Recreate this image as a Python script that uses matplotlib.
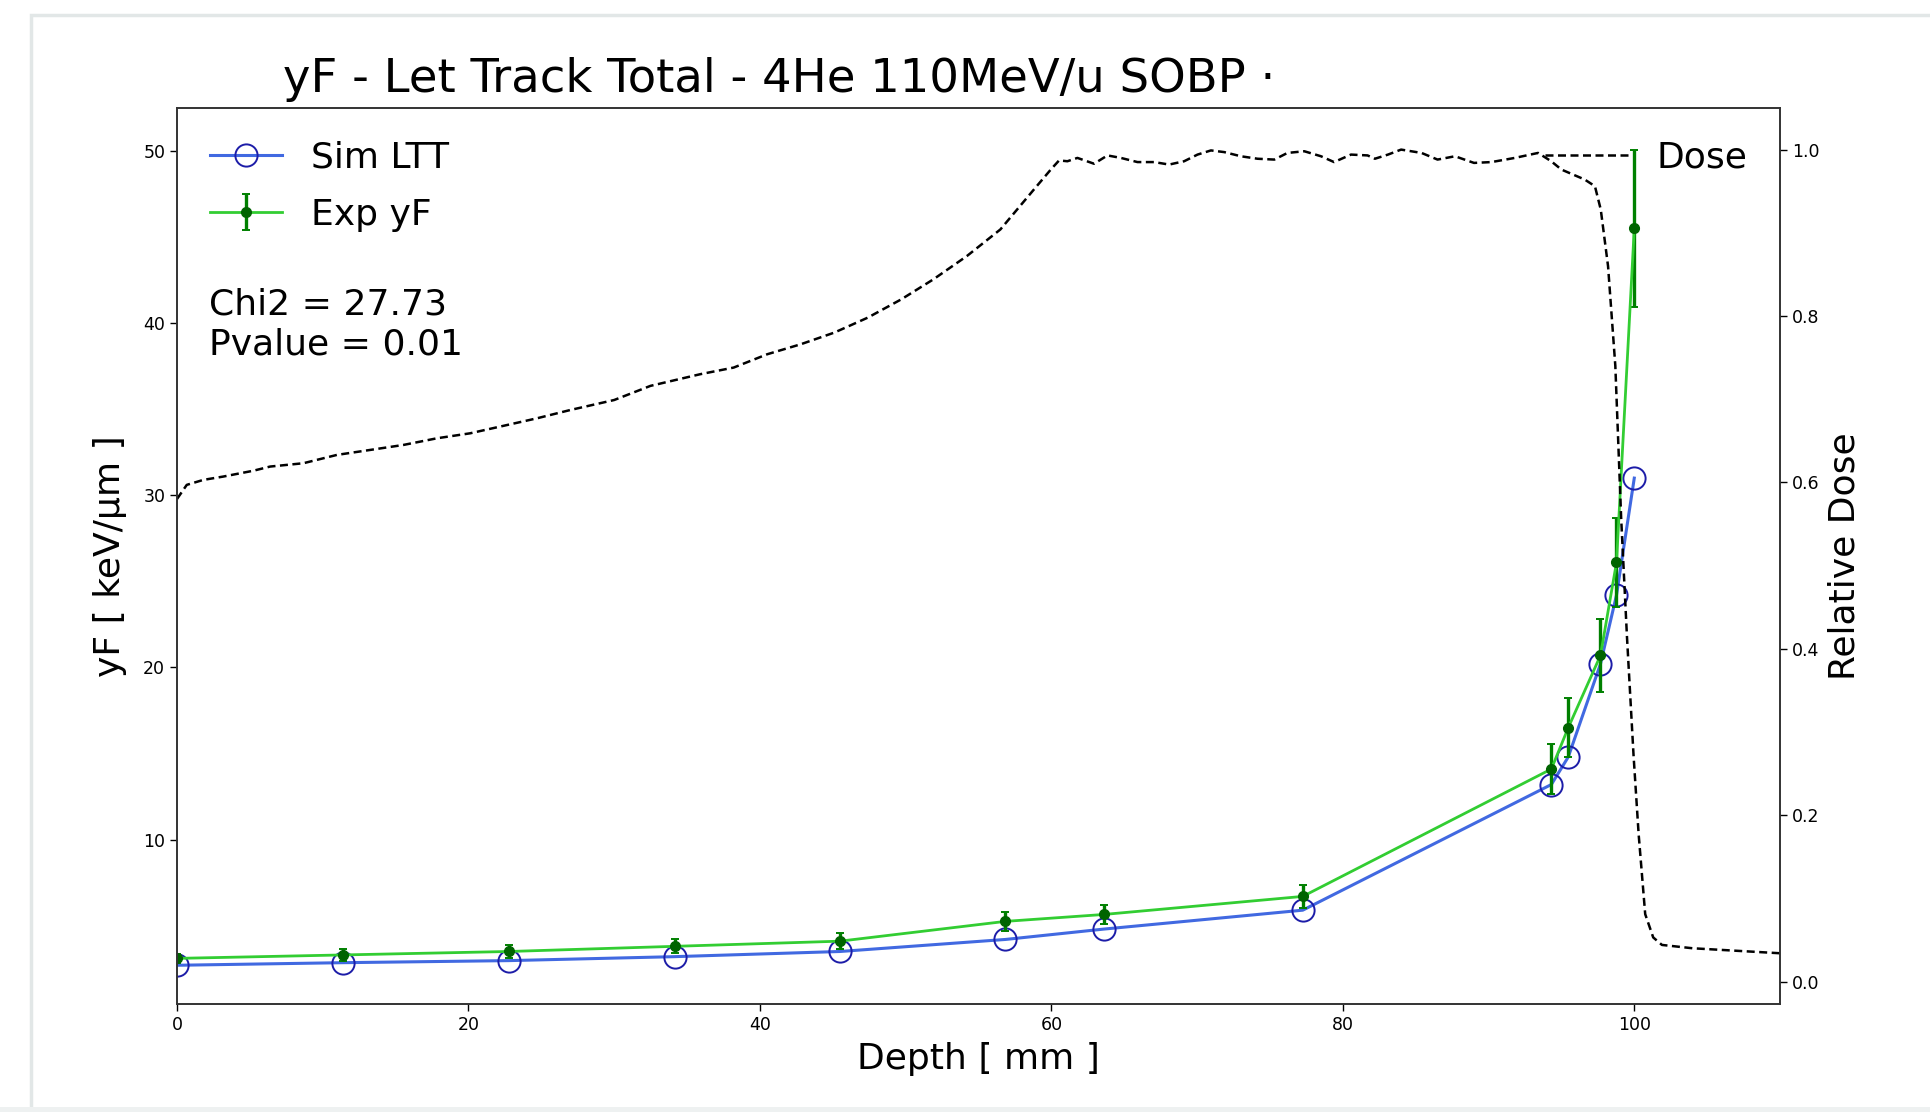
import matplotlib
matplotlib.use('Agg')
import matplotlib.pyplot as plt
from matplotlib.patches import Rectangle

# ── Measured points: yF along depth ──
depth = [0.0, 11.37, 22.75, 34.14, 45.49, 56.85, 63.58, 77.25, 94.31, 95.47, 97.68, 98.78, 100.0]
sim_ltt = [2.7, 2.85, 2.97, 3.2, 3.5, 4.2, 4.8, 5.9, 13.2, 14.8, 20.2, 24.2, 31.0]
exp_yf = [3.1, 3.3, 3.5, 3.8, 4.1, 5.25, 5.65, 6.7, 14.1, 16.5, 20.7, 26.1, 45.5]
exp_err = [0.25, 0.35, 0.35, 0.4, 0.45, 0.55, 0.55, 0.65, 1.45, 1.7, 2.1, 2.6, 4.55]

# ── Relative dose profile ──
dose_x = [0.0, 0.67, 1.81, 3.18, 5.24, 6.39, 8.67, 10.97, 13.26, 15.54, 17.84, 20.12,
          22.41, 24.7, 26.99, 30.0, 32.49, 35.9, 38.2, 40.5, 42.8, 45.1, 47.4, 49.7,
          51.9, 54.2, 56.5, 58.8, 59.96, 60.53, 61.1, 61.79, 62.93, 63.85, 64.77, 65.91,
          67.05, 68.08, 69.11, 70.03, 70.95, 71.86, 73.0, 74.15, 75.3, 76.2, 77.36, 78.5,
          79.4, 80.56, 81.7, 82.2, 83.1, 84.0, 85.4, 86.5, 87.7, 89.0, 90.2, 91.8,
          93.4, 94.3, 95.0, 96.6, 97.3, 97.7, 98.2, 98.7, 99.1, 99.5, 99.95, 100.3,
          100.75, 101.3, 101.9, 104.0, 107.0, 110.0]
dose_y = [0.58, 0.597, 0.603, 0.607, 0.614, 0.619, 0.623, 0.633, 0.639, 0.645, 0.653, 0.659,
          0.668, 0.677, 0.687, 0.699, 0.716, 0.730, 0.738, 0.754, 0.766, 0.780, 0.798, 0.820,
          0.844, 0.872, 0.904, 0.952, 0.976, 0.987, 0.986, 0.990, 0.983, 0.993, 0.990, 0.985,
          0.985, 0.982, 0.986, 0.994, 0.999, 0.997, 0.992, 0.989, 0.988, 0.996, 0.998, 0.992,
          0.985, 0.994, 0.993, 0.989, 0.994, 1.000, 0.996, 0.988, 0.992, 0.984, 0.985, 0.990,
          0.996, 0.986, 0.976, 0.964, 0.956, 0.928, 0.86, 0.74, 0.557, 0.414, 0.272, 0.177,
          0.081, 0.053, 0.044, 0.040, 0.037, 0.034]

chi2 = 27.73
pvalue = 0.01

W, H = 1931, 1112
fig = plt.figure(figsize=(W / 100, H / 100), dpi=100)
fig.subplots_adjust(left=177 / W, right=1780 / W, top=1 - 108 / H, bottom=1 - 1004 / H)
ax = fig.add_subplot(111)

# screenshot frame round the figure
fig.patches.append(Rectangle((31 / W, 0), 1.0, 1 - 15 / H, transform=fig.transFigure,
                             facecolor='none', edgecolor='#e2e7e7', lw=2.5, zorder=0))
fig.patches.append(Rectangle((0, 0), 1.0, 5 / H, transform=fig.transFigure,
                             facecolor='#eef1f1', edgecolor='none', zorder=0))

ax.plot(depth, sim_ltt, '-o', color='royalblue', lw=2.2, marker='o', ms=16,
        mfc='none', mec='#1c1ca8', mew=1.4, label='Sim LTT')
ax.errorbar(depth, exp_yf, yerr=exp_err, color='limegreen', lw=2.0, marker='o', ms=7,
            mfc='darkgreen', mec='darkgreen', ecolor='green', elinewidth=2.4,
            capsize=3, capthick=1.4, label='Exp yF')

ax.set_xlim(0, 110)
ax.set_ylim(0.45, 52.5)
ax.set_xticks([0, 20, 40, 60, 80, 100])
ax.set_yticks([10, 20, 30, 40, 50])
ax.tick_params(labelsize=12.5, length=5, width=1)
ax.set_xlabel('Depth [ mm ]', fontsize=26, labelpad=6)
ax.set_ylabel('yF [ keV/μm ]', fontsize=26, labelpad=12)
ax.legend(loc='upper left', frameon=False, fontsize=26, labelspacing=0.65)
ax.text(0.02, 0.7586, f'Chi2 = {chi2:.2f}\nPvalue = {pvalue:.2f}', transform=ax.transAxes,
        fontsize=26, va='center', ha='left', linespacing=1.22)

ax2 = ax.twinx()
ax2.plot(dose_x, dose_y, color='black', lw=1.8, ls=(0, (3.2, 1.8)), label='Dose')
ax2.set_ylim(-0.027, 1.05)
ax2.set_yticks([0.0, 0.2, 0.4, 0.6, 0.8, 1.0])
ax2.tick_params(labelsize=12.5, length=5, width=1)
ax2.set_ylabel('Relative Dose', fontsize=26, labelpad=6)
ax2.legend(loc='upper right', frameon=False, fontsize=26, handlelength=2.4, handletextpad=0.7)

for a in (ax, ax2):
    for s in a.spines.values():
        s.set_color('#333333')
        s.set_linewidth(1.2)

fig.text(283 / W, 1 - 92 / H, 'yF - Let Track Total - 4He 110MeV/u SOBP ·',
         fontsize=33.5, ha='left', va='baseline')

fig.savefig('out.png', dpi=100)
